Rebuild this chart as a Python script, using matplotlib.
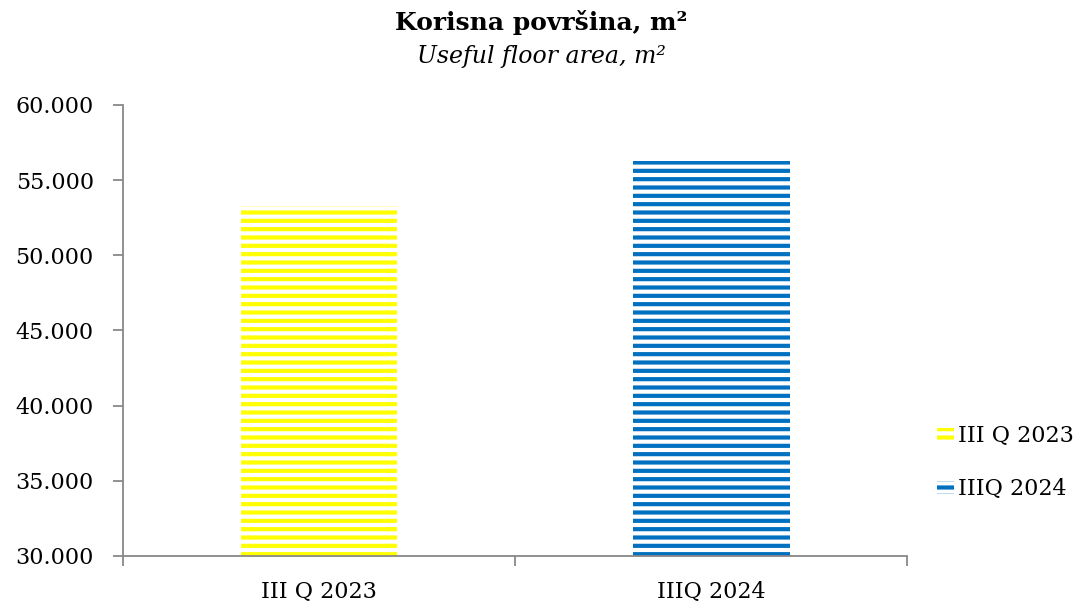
import matplotlib
matplotlib.use("Agg")
import matplotlib.pyplot as plt
from matplotlib.patches import Patch
from matplotlib.ticker import FuncFormatter, FixedLocator

categories = ["III Q 2023", "IIIQ 2024"]
values = [53280, 56280]
colors = ["#FFFF00", "#0070C0"]

plt.rcParams["font.family"] = ["DejaVu Serif"]
plt.rcParams["hatch.linewidth"] = 3.0

fig = plt.figure(figsize=(10.83, 6.05), dpi=100)
ax = fig.add_axes([0.1136, 0.081, 0.724, 0.7455])

x = range(len(categories))
bars = ax.bar(x, values, width=0.4, color="white", linewidth=0)
for b, c in zip(bars, colors):
    b.set_hatch("--")
    b.set_edgecolor(c)

ax.set_ylim(30000, 60000)
ax.set_xlim(-0.5, len(categories) - 0.5)
ax.set_yticks(range(30000, 60001, 5000))
ax.yaxis.set_major_formatter(FuncFormatter(lambda v, p: f"{int(v):,}".replace(",", ".")))
ax.set_xticks(list(x))
ax.set_xticklabels(categories)
ax.xaxis.set_minor_locator(FixedLocator([-0.5, 0.5, 1.5]))
ax.tick_params(axis="x", which="major", length=0, pad=18, labelsize=16)
ax.tick_params(axis="x", which="minor", length=7, color="#888888", width=1.3)
ax.tick_params(axis="y", length=7, color="#888888", width=1.3, labelsize=16, pad=14)

for s in ["top", "right"]:
    ax.spines[s].set_visible(False)
for s in ["left", "bottom"]:
    ax.spines[s].set_color("#888888")
    ax.spines[s].set_linewidth(1.3)

handles = [Patch(facecolor="white", edgecolor=c, hatch="--", linewidth=0) for c in colors]
leg = fig.legend(handles, categories, loc="center left", bbox_to_anchor=(0.847, 0.235),
                 frameon=False, fontsize=16, handlelength=0.75, handleheight=0.5,
                 handletextpad=0.2, labelspacing=1.4)

fig.text(0.5, 0.963, "Korisna površina, m²", ha="center", va="center",
         fontsize=18, fontweight="bold")
fig.text(0.5, 0.906, "Useful floor area, m²", ha="center", va="center",
         fontsize=17, style="italic")

fig.savefig("out.png", dpi=100)
